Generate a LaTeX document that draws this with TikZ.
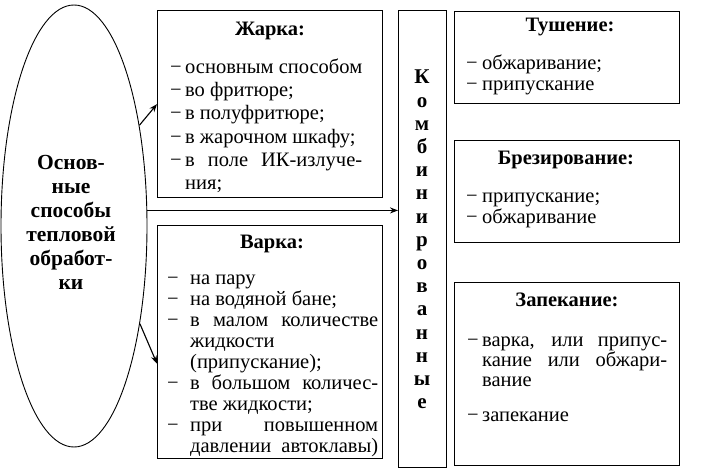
\documentclass[tikz,border=0pt]{standalone}
\usepackage{fontspec}
\setmainfont{Liberation Serif}
\usetikzlibrary{arrows.meta,shapes.geometric}
\newdimen\listW
\newdimen\listH
\newcommand\Dnat[1]{\hbox{\hbox to\listH{−\hss}#1}}
\newcommand\Djust[1]{\hbox to\listW{\hbox to\listH{−\hss}#1}}
\newcommand\Lnat[1]{\hbox{\hskip\listH #1}}
\newcommand\Ljust[1]{\hbox to\listW{\hskip\listH #1}}
\newcommand\Lst[4]{\vtop{\listW=#1pt\listH=#2pt\baselineskip=#3pt\lineskiplimit=-100pt\lineskip=0pt\fontsize{20.5}{#3}\selectfont #4}}
\begin{document}
\begin{tikzpicture}[x=1pt,y=-1pt,
  box/.style={draw, line width=1.3pt, inner sep=0pt, anchor=north west},
  ttl/.style={font=\bfseries\fontsize{20.5}{24}\selectfont, anchor=base, inner sep=0pt},
  lst/.style={anchor=base west, inner sep=0pt},
  arr/.style={line width=1.1pt, -{Stealth[length=8pt,width=6pt]}}]
\useasboundingbox (0,0) rectangle (710,470);
% ellipse
\node[draw, line width=0.9pt, ellipse, minimum width=146, minimum height=442, inner sep=0pt] (el) at (74,226) {};
\node[inner sep=0pt, anchor=base, font=\bfseries\fontsize{21.5}{24}\selectfont] (elt) at (71,170)
  {\vtop{\baselineskip=24pt\halign{\hfil#\hfil\cr Основ-\cr ные\cr способы\cr тепловой\cr обработ-\cr ки\cr}}};
% boxes
\node[box, minimum width=225, minimum height=187] (zh) at (157,10) {};
\node[box, minimum width=225, minimum height=233] (va) at (157,225) {};
\node[box, minimum width=48, minimum height=457] (ko) at (398,10) {};
\node[box, minimum width=225, minimum height=92] (tu) at (454,11) {};
\node[box, minimum width=225, minimum height=102] (br) at (454,140) {};
\node[box, minimum width=225, minimum height=183] (za) at (454,282) {};
% titles
\node[ttl] (zht) at (270,36) {Жарка:};
\node[ttl] (vat) at (272,249) {Варка:};
\node[ttl] (tut) at (570,32) {Тушение:};
\node[ttl] (brt) at (566,165) {Брезирование:};
\node[ttl] (zat) at (567,307) {Запекание:};
% vertical word
\node[inner sep=0pt, anchor=base, font=\bfseries\fontsize{21}{23.2}\selectfont] (kot) at (422,84)
  {\vtop{\baselineskip=23.2pt\halign{\hfil#\hfil\cr К\cr о\cr м\cr б\cr и\cr н\cr и\cr р\cr о\cr в\cr а\cr н\cr н\cr ы\cr е\cr}}};
% lists
\node[lst] (zhl) at (170,73.3) {\Lst{192}{15}{23.3}{%
  \Dnat{основным способом}
  \Dnat{во фритюре;}
  \Dnat{в полуфритюре;}
  \Dnat{в жарочном шкафу;}
  \Djust{в поле ИК-излуче-}
  \Lnat{ния;}}};
\node[lst] (val) at (167,285) {\Lst{211}{23}{21}{%
  \Dnat{на пару}
  \Dnat{на водяной бане;}
  \Djust{в малом количестве}
  \Lnat{жидкости}
  \Lnat{(припускание);}
  \Djust{в большом количес-}
  \Lnat{тве жидкости;}
  \Djust{при повышенном}
  \Ljust{давлении автоклавы)}}};
\node[lst] (tul) at (466,69.3) {\Lst{200}{16}{21}{%
  \Dnat{обжаривание;}
  \Dnat{припускание}}};
\node[lst] (brl) at (466,203) {\Lst{200}{16}{21}{%
  \Dnat{припускание;}
  \Dnat{обжаривание}}};
\node[lst] (zal) at (467,346.7) {\Lst{200}{15}{20}{%
  \Djust{варка, или припус-}
  \Ljust{кание или обжари-}
  \Lnat{вание}
  \vskip15pt
  \Dnat{запекание}}};
% arrows
\draw[arr] (el.57) -- (zh.west);
\draw[arr] (el.-56) -- ([yshift=-21.5pt]va.west);
\draw[arr] (el.12) -- (el.12 -| ko.west);
\end{tikzpicture}
\end{document}
